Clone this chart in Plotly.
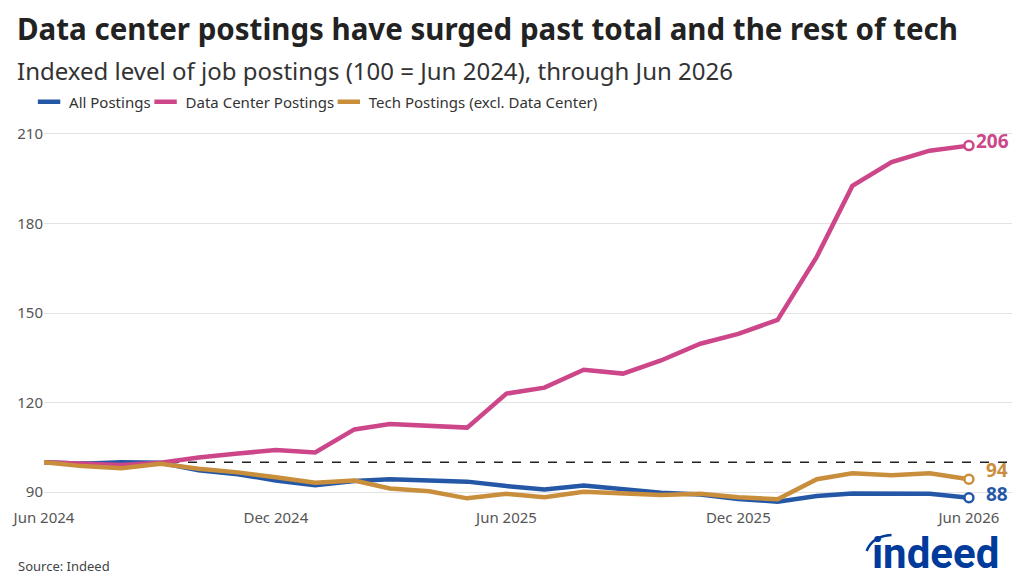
import pandas as pd
import plotly.graph_objects as go

months = pd.date_range("2024-06-01", periods=25, freq="MS")
data_center = [100, 99.5, 99.1, 99.8, 101.6, 102.9, 104.1, 103.3, 111.0, 112.8, 112.2, 111.6,
               123.0, 125.0, 131.0, 129.7, 134.1, 139.7, 143.0, 147.7, 168.9, 192.6, 200.6, 204.4, 206.1]
all_postings = [100, 99.5, 100.0, 99.8, 97.3, 96.0, 93.9, 92.3, 93.7, 94.3, 93.9, 93.5,
                92.0, 90.9, 92.2, 90.9, 89.8, 89.2, 87.7, 86.8, 88.7, 89.5, 89.5, 89.4, 88.1]
tech = [100, 98.7, 98.0, 99.5, 97.8, 96.6, 95.0, 93.1, 93.9, 91.2, 90.3, 87.9,
        89.4, 88.3, 90.1, 89.4, 89.0, 89.4, 88.3, 87.6, 94.3, 96.3, 95.6, 96.3, 94.3]
y_ticks = [90, 120, 150, 180, 210]
x_ticks = ["2024-06-01", "2024-12-01", "2025-06-01", "2025-12-01", "2026-06-01"]
x_tick_labels = ["Jun 2024", "Dec 2024", "Jun 2025", "Dec 2025", "Jun 2026"]

BLUE = "#2557a7"
PINK = "#cc4689"
GOLD = "#c98e3c"
FONT = "Noto Sans"

W, H = 1024, 585
L, R, T, B = 40, 12, 128, 78
PW, PH = W - L - R, H - T - B


def px(x):
    return (x - L) / PW


def py(y):
    return 1 - (y - T) / PH


series = [("All Postings", all_postings, BLUE, "legend", 25),
          ("Data Center Postings", data_center, PINK, "legend2", 142),
          ("Tech Postings (excl. Data Center)", tech, GOLD, "legend3", 326)]

fig = go.Figure()
for name, vals, col, lg, _ in series:
    fig.add_trace(go.Scatter(x=months, y=vals, name=name, mode="lines", showlegend=False,
                             line=dict(color=col, width=4.5), hoverinfo="skip"))
for name, vals, col, lg, _ in series:
    fig.add_trace(go.Scatter(x=[months[-1]], y=[vals[-1]], mode="markers", showlegend=False,
                             marker=dict(color="white", size=9, line=dict(color=col, width=2.5)),
                             hoverinfo="skip"))
# legend entries (short bar swatches like the reference)
for name, vals, col, lg, _ in series:
    fig.add_trace(go.Scatter(x=[None], y=[None], name=name, mode="markers", legend=lg,
                             marker=dict(symbol="line-ew", size=18, color=col,
                                         line=dict(color=col, width=4.5)),
                             hoverinfo="skip"))

fig.add_shape(type="line", xref="paper", yref="y", x0=0, x1=1, y0=100, y1=100,
              line=dict(color="#222", width=1.5, dash="dash"), layer="below")

ends = [(data_center, PINK, 5, 5), (tech, GOLD, 9, 15), (all_postings, BLUE, 4, 15)]
for vals, col, ys, xs in ends:
    fig.add_annotation(x=months[-1], y=vals[-1], text=f"<b>{round(vals[-1])}</b>",
                       showarrow=False, xanchor="left", xshift=xs, yshift=ys,
                       font=dict(family=FONT, size=19, color=col))

fig.add_annotation(xref="paper", yref="paper", x=px(11), y=py(28), xanchor="left", yanchor="middle",
                   text="<b>Data center postings have surged past total and the rest of tech</b>",
                   showarrow=False, font=dict(family=FONT, size=29.5, color="#222"))
fig.add_annotation(xref="paper", yref="paper", x=px(11), y=py(70), xanchor="left", yanchor="middle",
                   text="Indexed level of job postings (100 = Jun 2024), through Jun 2026",
                   showarrow=False, font=dict(family=FONT, size=24, color="#333"))
fig.add_annotation(xref="paper", yref="paper", x=px(12), y=py(566), xanchor="left", yanchor="middle",
                   text="Source: Indeed", showarrow=False, font=dict(family=FONT, size=13, color="#444"))
fig.add_annotation(xref="paper", yref="paper", x=px(1001), y=py(553), xanchor="right", yanchor="middle",
                   text="<b>indeed</b>", showarrow=False,
                   font=dict(family="Roboto", size=42, color="#003a9b"))
fig.add_shape(type="path", xref="paper", yref="paper",
              path=f"M {px(866)},{py(551)} Q {px(872)},{py(536)} {px(891)},{py(535)}",
              line=dict(color="#003a9b", width=2.5))

legend_style = dict(orientation="h", yanchor="middle", xanchor="left", y=py(102),
                    font=dict(family=FONT, size=15, color="#333"), itemwidth=30,
                    bgcolor="rgba(0,0,0,0)", itemsizing="trace")
layout_legends = {}
for name, vals, col, lg, lx in series:
    layout_legends[lg] = dict(legend_style, x=px(lx))

fig.update_layout(
    width=W, height=H,
    margin=dict(l=L, r=R, t=T, b=B),
    paper_bgcolor="white", plot_bgcolor="white",
    font=dict(family=FONT, size=15, color="#555"),
    showlegend=True,
    xaxis=dict(range=["2024-06-01", "2026-07-05"], tickvals=x_ticks, ticktext=x_tick_labels,
               showgrid=False, zeroline=False, showline=False, ticks="",
               tickfont=dict(family=FONT, size=15, color="#555"), fixedrange=True),
    yaxis=dict(range=[85, 212], tickvals=y_ticks, showgrid=True, gridcolor="#e3e3e3",
               gridwidth=1, zeroline=False, showline=False, ticks="",
               tickfont=dict(family=FONT, size=15, color="#555"), fixedrange=True),
    **layout_legends,
)

fig.write_html("out.html")
